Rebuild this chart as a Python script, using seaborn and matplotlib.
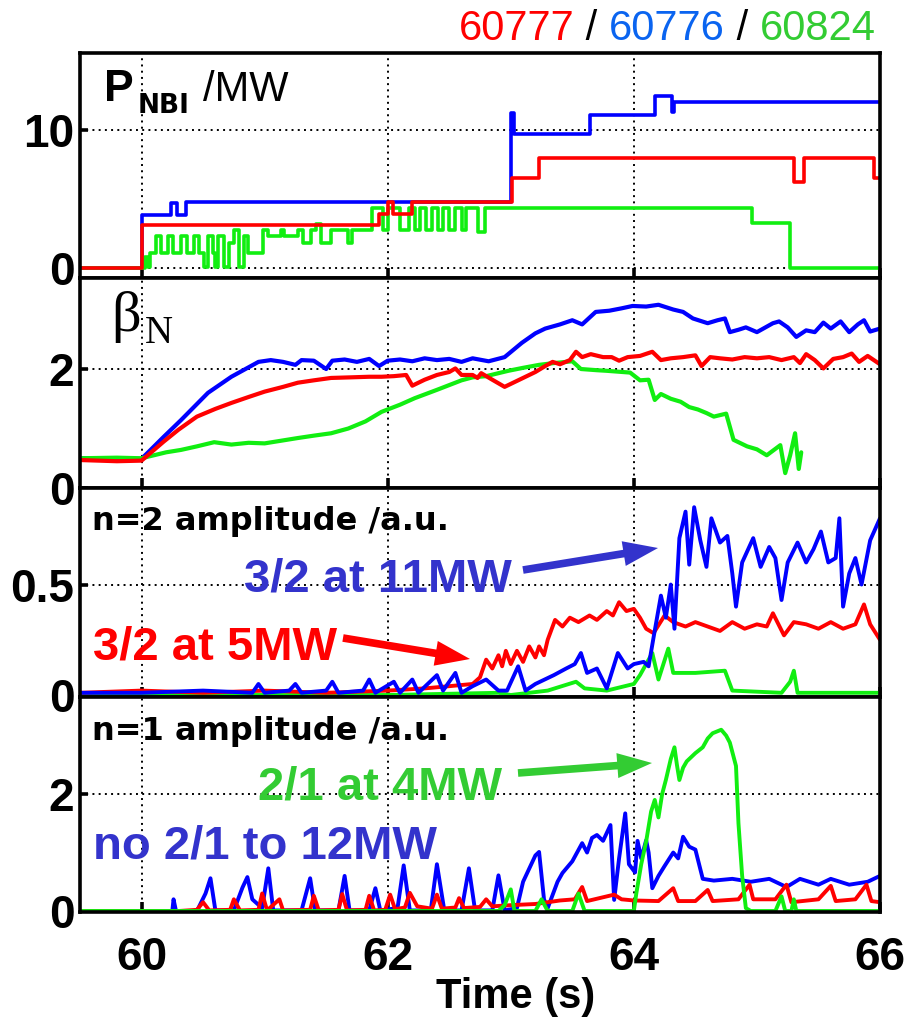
import matplotlib
matplotlib.use("Agg")
import matplotlib.pyplot as plt
import matplotlib.patches as mpatches
from matplotlib.transforms import IdentityTransform
import pandas as pd
import seaborn as sns

# ---------------- data ----------------
shots = ["60776", "60824", "60777"]
shot_colors = {"60777": "#ff0000", "60776": "#0000ff", "60824": "#11ee11"}
xticks = [60, 62, 64, 66]
xtick_labels = ["60", "62", "64", "66"]

# Panel 1: NBI power (MW), step signals (time, value)
pnbi_red = [(59.5, 0.0), (60.0, 3.1), (61.93, 3.9), (62.0, 4.8), (62.04, 3.9), (62.2, 4.75),
            (63.01, 6.5), (63.23, 8.0), (65.3, 6.2), (65.38, 8.0), (65.95, 6.5), (66.0, 6.5)]
pnbi_blue = [(59.5, 0.0), (60.0, 3.85), (60.24, 4.7), (60.29, 3.85), (60.36, 4.8), (63.0, 11.2),
             (63.03, 9.7), (63.64, 11.1), (64.17, 12.5), (64.31, 11.3), (64.33, 12.05), (66.0, 12.05)]
pnbi_green = [(59.5, 0.0), (60.03, 0.8), (60.05, 0.1), (60.07, 1.1), (60.114, 2.3), (60.155, 1.1),
              (60.215, 2.3), (60.258, 1.1), (60.318, 2.3), (60.373, 1.1), (60.427, 2.3), (60.468, 1.1),
              (60.509, 0.1), (60.536, 2.3), (60.577, 1.1), (60.60, 0.1), (60.618, 2.3), (60.672, 0.1),
              (60.713, 1.8), (60.754, 2.75), (60.795, 0.1), (60.835, 2.3), (60.862, 1.1), (60.985, 2.75),
              (61.026, 2.3), (61.135, 2.75), (61.16, 2.3), (61.27, 2.75), (61.31, 1.85), (61.38, 2.75),
              (61.42, 3.2), (61.46, 1.85), (61.543, 2.75), (61.68, 1.85), (61.706, 2.75), (61.87, 4.35),
              (61.965, 2.75), (62.005, 4.35), (62.10, 2.75), (62.17, 4.35), (62.22, 2.75), (62.26, 4.35),
              (62.31, 2.75), (62.36, 4.35), (62.41, 2.75), (62.45, 4.35), (62.50, 2.75), (62.55, 4.35),
              (62.60, 2.75), (62.64, 4.35), (62.73, 2.6), (62.79, 4.35), (64.96, 3.3), (65.27, 0.0),
              (66.0, 0.0)]

# Panel 2: beta_N
beta_blue = [(59.5, 0.50), (59.8, 0.49), (60.0, 0.49), (60.18, 0.86), (60.32, 1.14), (60.54, 1.6),
             (60.73, 1.87), (60.95, 2.12), (61.05, 2.15), (61.15, 2.12), (61.25, 2.07), (61.3, 2.15),
             (61.4, 2.14), (61.5, 2.0), (61.55, 2.14), (61.65, 2.16), (61.75, 2.12), (61.85, 2.17),
             (61.93, 2.05), (62.0, 2.14), (62.1, 2.16), (62.2, 2.13), (62.3, 2.18), (62.4, 2.15),
             (62.5, 2.17), (62.6, 2.12), (62.69, 2.18), (62.82, 2.13), (62.95, 2.2), (63.09, 2.44),
             (63.2, 2.6), (63.28, 2.68), (63.4, 2.75), (63.5, 2.82), (63.58, 2.75), (63.69, 2.96),
             (63.8, 2.98), (63.9, 3.02), (63.99, 3.06), (64.1, 3.05), (64.2, 3.08), (64.32, 3.0),
             (64.4, 2.96), (64.48, 2.85), (64.6, 2.77), (64.68, 2.82), (64.74, 2.85), (64.78, 2.62),
             (64.85, 2.66), (64.91, 2.7), (65.0, 2.62), (65.13, 2.77), (65.18, 2.8), (65.25, 2.7),
             (65.32, 2.54), (65.4, 2.65), (65.47, 2.62), (65.54, 2.78), (65.6, 2.68), (65.68, 2.8),
             (65.75, 2.62), (65.82, 2.75), (65.87, 2.82), (65.92, 2.63), (66.0, 2.68)]
beta_red = [(59.5, 0.47), (59.8, 0.45), (60.0, 0.46), (60.18, 0.78), (60.3, 0.98), (60.45, 1.2),
            (60.6, 1.33), (60.73, 1.43), (60.87, 1.53), (61.0, 1.62), (61.15, 1.7), (61.27, 1.77),
            (61.4, 1.81), (61.54, 1.85), (61.7, 1.86), (61.85, 1.87), (61.95, 1.87), (62.05, 1.88),
            (62.15, 1.9), (62.2, 1.72), (62.3, 1.82), (62.4, 1.9), (62.5, 1.95), (62.55, 2.01),
            (62.6, 1.9), (62.69, 1.9), (62.73, 1.85), (62.76, 1.93), (62.85, 1.82), (62.95, 1.7),
            (63.05, 1.8), (63.1, 1.85), (63.2, 1.95), (63.28, 2.05), (63.34, 2.12), (63.4, 2.08),
            (63.48, 2.15), (63.53, 2.29), (63.58, 2.2), (63.65, 2.25), (63.75, 2.2), (63.82, 2.2),
            (63.88, 2.14), (63.95, 2.2), (64.05, 2.22), (64.15, 2.29), (64.22, 2.15), (64.3, 2.18),
            (64.4, 2.2), (64.5, 2.23), (64.55, 2.05), (64.62, 2.2), (64.7, 2.18), (64.8, 2.16),
            (64.9, 2.2), (65.0, 2.18), (65.1, 2.2), (65.2, 2.15), (65.3, 2.2), (65.35, 2.1),
            (65.4, 2.25), (65.47, 2.15), (65.54, 2.01), (65.62, 2.17), (65.7, 2.2), (65.77, 2.26),
            (65.83, 2.12), (65.9, 2.22), (66.0, 2.08)]
beta_green = [(59.5, 0.5), (59.8, 0.51), (60.0, 0.5), (60.06, 0.53), (60.2, 0.6), (60.32, 0.64),
              (60.45, 0.7), (60.59, 0.77), (60.73, 0.73), (60.87, 0.76), (61.0, 0.75), (61.15, 0.8),
              (61.27, 0.84), (61.4, 0.88), (61.54, 0.92), (61.68, 1.0), (61.82, 1.12), (61.95, 1.28),
              (62.1, 1.4), (62.22, 1.51), (62.4, 1.65), (62.6, 1.81), (62.69, 1.86), (62.8, 1.88),
              (62.98, 1.97), (63.1, 2.02), (63.23, 2.07), (63.35, 2.1), (63.5, 2.13), (63.57, 2.0),
              (63.7, 1.98), (63.78, 1.97), (63.97, 1.94), (64.05, 1.81), (64.12, 1.82), (64.17, 1.48),
              (64.22, 1.58), (64.3, 1.5), (64.38, 1.45), (64.45, 1.36), (64.52, 1.32), (64.59, 1.26),
              (64.65, 1.2), (64.75, 1.25), (64.81, 0.81), (64.92, 0.7), (65.0, 0.65), (65.08, 0.55),
              (65.19, 0.72), (65.23, 0.25), (65.27, 0.55), (65.31, 0.92), (65.34, 0.32), (65.36, 0.6)]

# Panel 3: n=2 amplitude (a.u.)
n2_blue = [(59.5, 0.01), (60.0, 0.01), (60.5, 0.02), (60.9, 0.01), (60.95, 0.05), (61.0, 0.01),
           (61.2, 0.02), (61.25, 0.05), (61.3, 0.01), (61.5, 0.02), (61.55, 0.06), (61.6, 0.01),
           (61.8, 0.02), (61.85, 0.07), (61.9, 0.01), (62.05, 0.06), (62.1, 0.01), (62.2, 0.07),
           (62.25, 0.01), (62.4, 0.09), (62.45, 0.02), (62.55, 0.1), (62.6, 0.01), (62.69, 0.04),
           (62.8, 0.07), (62.9, 0.02), (62.97, 0.02), (63.06, 0.13), (63.12, 0.02), (63.2, 0.05),
           (63.35, 0.09), (63.45, 0.12), (63.52, 0.14), (63.57, 0.19), (63.62, 0.1), (63.7, 0.12),
           (63.78, 0.03), (63.87, 0.19), (63.95, 0.12), (64.0, 0.14), (64.08, 0.15), (64.12, 0.13),
           (64.16, 0.26), (64.22, 0.45), (64.26, 0.35), (64.3, 0.5), (64.33, 0.3), (64.37, 0.71),
           (64.42, 0.83), (64.45, 0.59), (64.49, 0.85), (64.54, 0.7), (64.59, 0.58), (64.63, 0.8),
           (64.7, 0.69), (64.76, 0.72), (64.8, 0.55), (64.83, 0.4), (64.88, 0.6), (64.97, 0.71),
           (65.03, 0.58), (65.1, 0.67), (65.15, 0.62), (65.2, 0.43), (65.25, 0.6), (65.33, 0.69),
           (65.4, 0.6), (65.46, 0.66), (65.52, 0.74), (65.58, 0.6), (65.64, 0.62), (65.67, 0.8),
           (65.7, 0.4), (65.75, 0.55), (65.8, 0.62), (65.85, 0.5), (65.92, 0.7), (66.0, 0.8)]
n2_red = [(59.5, 0.01), (60.0, 0.02), (60.5, 0.01), (61.0, 0.02), (61.5, 0.01), (62.0, 0.02),
          (62.3, 0.03), (62.5, 0.04), (62.69, 0.05), (62.75, 0.08), (62.8, 0.16), (62.85, 0.12),
          (62.9, 0.18), (62.93, 0.13), (62.96, 0.2), (63.0, 0.14), (63.05, 0.2), (63.1, 0.15),
          (63.15, 0.22), (63.2, 0.17), (63.23, 0.22), (63.27, 0.18), (63.3, 0.25), (63.36, 0.34),
          (63.42, 0.31), (63.48, 0.35), (63.55, 0.33), (63.64, 0.36), (63.7, 0.34), (63.78, 0.38),
          (63.83, 0.36), (63.88, 0.42), (63.94, 0.38), (64.0, 0.39), (64.05, 0.35), (64.1, 0.3),
          (64.16, 0.28), (64.25, 0.36), (64.32, 0.33), (64.42, 0.31), (64.5, 0.33), (64.6, 0.31),
          (64.7, 0.29), (64.8, 0.33), (64.9, 0.3), (65.0, 0.32), (65.08, 0.31), (65.13, 0.37),
          (65.22, 0.27), (65.3, 0.33), (65.4, 0.32), (65.5, 0.3), (65.6, 0.33), (65.7, 0.3),
          (65.8, 0.32), (65.87, 0.41), (65.92, 0.32), (66.0, 0.25)]
n2_green = [(59.5, 0.0), (62.0, 0.0), (62.9, 0.01), (63.0, 0.0), (63.3, 0.02), (63.53, 0.06),
            (63.6, 0.03), (63.78, 0.02), (64.0, 0.05), (64.05, 0.09), (64.15, 0.19), (64.2, 0.07),
            (64.28, 0.21), (64.32, 0.1), (64.5, 0.1), (64.74, 0.11), (64.8, 0.02), (65.2, 0.01),
            (65.27, 0.06), (65.3, 0.11), (65.33, 0.01), (66.0, 0.01)]

# Panel 4: n=1 amplitude (a.u.)
n1_blue = [(59.5, 0.0), (60.25, 0.0), (60.26, 0.2), (60.28, 0.0), (60.45, 0.0), (60.52, 0.3),
           (60.56, 0.56), (60.6, 0.01), (60.75, 0.01), (60.82, 0.4), (60.86, 0.58), (60.9, 0.2),
           (60.98, 0.05), (61.03, 0.73), (61.07, 0.01), (61.3, 0.01), (61.37, 0.56), (61.41, 0.01),
           (61.6, 0.01), (61.65, 0.6), (61.69, 0.01), (61.85, 0.01), (61.9, 0.39), (61.94, 0.01),
           (62.08, 0.05), (62.13, 0.78), (62.18, 0.01), (62.35, 0.01), (62.4, 0.8), (62.46, 0.01),
           (62.6, 0.01), (62.66, 0.73), (62.71, 0.01), (62.85, 0.01), (62.9, 0.61), (62.95, 0.01),
           (63.05, 0.05), (63.1, 0.5), (63.2, 0.95), (63.23, 1.01), (63.27, 0.2), (63.3, 0.05),
           (63.38, 0.5), (63.42, 0.65), (63.5, 0.85), (63.58, 1.16), (63.62, 1.0), (63.66, 1.25),
           (63.7, 1.3), (63.75, 1.2), (63.81, 1.47), (63.84, 0.19), (63.88, 0.9), (63.93, 1.67),
           (63.96, 0.8), (64.01, 0.66), (64.03, 1.2), (64.06, 0.9), (64.1, 1.21), (64.12, 1.0),
           (64.15, 0.39), (64.2, 0.6), (64.25, 0.77), (64.32, 1.0), (64.36, 0.9), (64.4, 1.27),
           (64.45, 1.1), (64.5, 1.05), (64.56, 0.55), (64.65, 0.52), (64.8, 0.55), (64.95, 0.5),
           (65.1, 0.55), (65.24, 0.41), (65.35, 0.55), (65.5, 0.45), (65.6, 0.55), (65.75, 0.45),
           (65.9, 0.5), (66.0, 0.6)]
n1_red = [(59.5, 0.0), (60.3, 0.0), (60.45, 0.02), (60.5, 0.15), (60.55, 0.01), (60.72, 0.02),
          (60.75, 0.2), (60.8, 0.01), (60.95, 0.02), (60.98, 0.3), (61.02, 0.01), (61.12, 0.2),
          (61.15, 0.01), (61.37, 0.02), (61.4, 0.26), (61.44, 0.01), (61.6, 0.02), (61.63, 0.29),
          (61.67, 0.01), (61.82, 0.02), (61.85, 0.26), (61.89, 0.01), (61.98, 0.02), (62.02, 0.28),
          (62.06, 0.03), (62.14, 0.06), (62.18, 0.31), (62.24, 0.08), (62.36, 0.04), (62.4, 0.28),
          (62.44, 0.04), (62.55, 0.06), (62.58, 0.22), (62.62, 0.05), (62.75, 0.07), (62.8, 0.2),
          (62.85, 0.08), (63.0, 0.1), (63.2, 0.12), (63.4, 0.18), (63.52, 0.2), (63.58, 0.41),
          (63.62, 0.17), (63.84, 0.28), (63.9, 0.2), (64.0, 0.18), (64.2, 0.17), (64.32, 0.39),
          (64.36, 0.17), (64.5, 0.17), (64.6, 0.36), (64.64, 0.17), (64.85, 0.2), (64.94, 0.45),
          (64.97, 0.2), (65.15, 0.2), (65.24, 0.45), (65.28, 0.15), (65.5, 0.2), (65.6, 0.43),
          (65.64, 0.17), (65.8, 0.2), (65.89, 0.45), (65.93, 0.17), (66.0, 0.15)]
n1_green = [(59.5, 0.0), (62.9, 0.0), (62.95, 0.1), (63.0, 0.37), (63.03, 0.0), (63.2, 0.0),
            (63.25, 0.2), (63.3, 0.0), (63.5, 0.0), (63.55, 0.3), (63.6, 0.0), (64.0, 0.0),
            (64.02, 0.3), (64.06, 0.8), (64.1, 1.19), (64.14, 1.7), (64.17, 1.9), (64.2, 1.6),
            (64.23, 2.0), (64.26, 2.24), (64.3, 2.6), (64.33, 2.8), (64.35, 2.5), (64.37, 2.24),
            (64.4, 2.45), (64.43, 2.56), (64.5, 2.7), (64.56, 2.8), (64.6, 2.95), (64.64, 3.04),
            (64.71, 3.1), (64.75, 3.0), (64.78, 2.88), (64.83, 2.48), (64.85, 1.5), (64.88, 0.6),
            (64.91, 0.05), (64.95, 0.0), (65.15, 0.0), (65.2, 0.25), (65.23, 0.0), (65.28, 0.0),
            (65.3, 0.2), (65.32, 0.0), (66.0, 0.0)]

panel_yticks = [[0, 10], [0, 2], [0, 0.5], [0, 2]]
panel_yticklabels = [["0", "10"], ["0", "2"], ["0", "0.5"], ["0", "2"]]
panel_ylims = [(-0.72, 15.58), (0.0, 3.53), (-0.009, 0.937), (-0.017, 3.66)]
panel_grid_y = [[0, 10], [2], [0.5], [2]]

title_parts = [("60777", "#ff0000"), (" / ", "#000000"), ("60776", "#0a64f0"),
               (" / ", "#000000"), ("60824", "#33cc33")]

# ---------------- figure ----------------
sns.set_theme(style="white")
plt.rcParams["font.family"] = ["Liberation Sans", "DejaVu Sans"]
plt.rcParams["text.color"] = "black"
plt.rcParams["xtick.color"] = "black"
plt.rcParams["ytick.color"] = "black"

W, H = 906, 1021
fig = plt.figure(figsize=(W / 100, H / 100), dpi=100)
gs = fig.add_gridspec(4, 1, left=80 / W, right=880 / W, top=1 - 53 / H, bottom=1 - 912 / H,
                      hspace=0, height_ratios=[225, 210, 209, 215])
axes = [fig.add_subplot(gs[i]) for i in range(4)]


def frame(series):
    rows = []
    for name, pts in series:
        for t, v in pts:
            rows.append((name, t, v))
    return pd.DataFrame(rows, columns=["shot", "t", "v"])


panels = [
    (frame([("60776", pnbi_blue), ("60824", pnbi_green), ("60777", pnbi_red)]), "steps-post", 2.6),
    (frame([("60776", beta_blue), ("60824", beta_green), ("60777", beta_red)]), "default", 3.0),
    (frame([("60824", n2_green), ("60777", n2_red), ("60776", n2_blue)]), "default", 2.8),
    (frame([("60776", n1_blue), ("60777", n1_red), ("60824", n1_green)]), "default", 2.8),
]

dot = (0, (1, 2.2))
for i, (ax, (df, ds, lw)) in enumerate(zip(axes, panels)):
    order = list(dict.fromkeys(df["shot"]))
    sns.lineplot(data=df, x="t", y="v", hue="shot", hue_order=order, palette=shot_colors,
                 estimator=None, sort=False, legend=False, linewidth=lw, drawstyle=ds, ax=ax,
                 zorder=3)
    ax.set_xlim(59.5, 66)
    ax.set_ylim(*panel_ylims[i])
    ax.set_xticks(xticks)
    ax.set_yticks(panel_yticks[i])
    ax.set_yticklabels(panel_yticklabels[i])
    ax.set_xlabel("")
    ax.set_ylabel("")
    for x in xticks[:-1]:
        ax.axvline(x, color="black", lw=1.4, ls=dot, zorder=1)
    for y in panel_grid_y[i]:
        ax.axhline(y, color="black", lw=1.4, ls=dot, zorder=1)
    for s in ax.spines.values():
        s.set_visible(True)
        s.set_linewidth(2.6)
        s.set_color("black")
        s.set_zorder(5)
    ax.tick_params(axis="x", direction="in", length=7, width=2.6, colors="black",
                   bottom=True, top=False, labelbottom=(i == 3), labelsize=33, pad=17)
    ax.tick_params(axis="y", direction="in", length=6, width=2.6, colors="black",
                   left=True, right=False, labelsize=33, pad=4)
    for lab in ax.get_yticklabels() + ax.get_xticklabels():
        lab.set_fontweight("bold")
    ax.set_facecolor("white")

axes[3].set_xticklabels(xtick_labels)
for lab in axes[3].get_xticklabels():
    lab.set_fontweight("bold")


def fx(px):
    return px / W


def fy(py):
    return 1 - py / H


# panel labels
fig.text(fx(104), fy(101), "P", fontsize=32, fontweight="bold", va="baseline", ha="left")
fig.text(fx(138), fy(113), "NBI", fontsize=19, fontweight="bold", family="DejaVu Sans",
         va="baseline", ha="left")
fig.text(fx(203), fy(101), "/MW", fontsize=30, va="baseline", ha="left")
fig.text(fx(111), fy(331), "β", fontsize=42, family=["Liberation Serif", "DejaVu Serif"],
         va="baseline", ha="left")
fig.text(fx(145), fy(343), "N", fontsize=28, family=["Liberation Serif", "DejaVu Serif"],
         va="baseline", ha="left")
fig.text(fx(92), fy(530), "n=2 amplitude /a.u.", fontsize=23, fontweight="bold",
         family="DejaVu Sans", va="baseline", ha="left")
fig.text(fx(92), fy(740), "n=1 amplitude /a.u.", fontsize=23, fontweight="bold",
         family="DejaVu Sans", va="baseline", ha="left")

# annotations
fig.text(fx(244), fy(592), "3/2 at 11MW", fontsize=34, fontweight="bold", color="#3333cc",
         va="baseline", ha="left")
fig.text(fx(93), fy(659), "3/2 at 5MW", fontsize=34, fontweight="bold", color="#ff0000",
         va="baseline", ha="left")
fig.text(fx(258), fy(800), "2/1 at 4MW", fontsize=34, fontweight="bold", color="#33cc33",
         va="baseline", ha="left")
fig.text(fx(93), fy(858), "no 2/1 to 12MW", fontsize=34, fontweight="bold", color="#3333cc",
         va="baseline", ha="left")


def arrow(p0, p1, color):
    style = mpatches.ArrowStyle.Simple(head_length=25, head_width=18, tail_width=5.5)
    a = mpatches.FancyArrowPatch((p0[0], H - p0[1]), (p1[0], H - p1[1]),
                                 transform=IdentityTransform(), arrowstyle=style,
                                 mutation_scale=1, color=color, lw=0,
                                 shrinkA=0, shrinkB=0, zorder=10)
    fig.add_artist(a)


arrow((523, 570), (658, 548), "#3333cc")
arrow((343, 638), (470, 659), "#ff0000")
arrow((518, 773), (652, 763), "#33cc33")

fig.text(fx(516), fy(997), "Time (s)", fontsize=30, fontweight="bold", ha="center", va="center")

# title made of coloured pieces, right-aligned
renderer = fig.canvas.get_renderer()
tmp = [fig.text(0, 0, s, fontsize=30) for s, _ in title_parts]
widths = [t.get_window_extent(renderer).width for t in tmp]
for t in tmp:
    t.remove()
x = 876 - sum(widths)
for (s, c), w in zip(title_parts, widths):
    fig.text(fx(x), fy(40), s, fontsize=30, color=c, va="baseline", ha="left")
    x += w

fig.savefig("out.png", dpi=100, facecolor="white")
